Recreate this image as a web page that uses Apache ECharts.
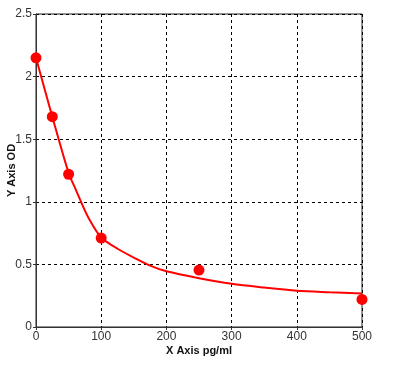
<!DOCTYPE html>
<html><head><meta charset="utf-8">
<script src="https://cdn.jsdelivr.net/npm/echarts@6/dist/echarts.min.js"></script>
<style>html,body{margin:0;padding:0;background:#fff}#c{width:399px;height:368px}</style>
</head><body><div id="c"></div>
<script>
// measured points
var pointX = [0, 25, 50, 100, 250, 500];
var pointY = [2.15, 1.68, 1.22, 0.71, 0.455, 0.22];
// fitted curve
var curveX = [0, 25, 50, 60, 75, 85, 100, 125, 150, 175, 200, 250, 300, 350, 400, 450, 500];
var curveY = [2.15, 1.68, 1.23, 1.11, 0.93, 0.83, 0.715, 0.625, 0.555, 0.49, 0.445, 0.39, 0.345, 0.315, 0.29, 0.278, 0.268];
var xTicks = [0, 100, 200, 300, 400, 500];
var yTicks = [0, 0.5, 1, 1.5, 2, 2.5];

var chart = echarts.init(document.getElementById('c'));
var font = '"Liberation Sans", Arial, sans-serif';
chart.setOption({
  animation: false,
  grid: {left: 36, top: 14, right: 37, bottom: 41, show: true, borderColor: '#222', borderWidth: 1,
         containLabel: false, outerBoundsMode: 'none'},
  xAxis: {
    type: 'value', min: xTicks[0], max: xTicks[xTicks.length-1], interval: 100,
    name: 'X Axis pg/ml', nameLocation: 'middle', nameGap: 18, nameMoveOverlap: false,
    nameTextStyle: {fontFamily: font, fontSize: 11, fontWeight: 'bold', color: '#111'},
    axisLine: {lineStyle: {color: '#333'}},
    axisTick: {show: true, length: 3, lineStyle: {color: '#333'}},
    axisLabel: {fontFamily: font, fontSize: 12, color: '#333', margin: 4},
    splitLine: {show: true, lineStyle: {color: '#000', type: [3, 3], width: 1}}
  },
  yAxis: {
    type: 'value', min: yTicks[0], max: yTicks[yTicks.length-1], interval: 0.5,
    name: 'Y Axis OD', nameLocation: 'middle', nameGap: 19, nameMoveOverlap: false,
    nameTextStyle: {fontFamily: font, fontSize: 11, fontWeight: 'bold', color: '#111'},
    axisLine: {show: true, lineStyle: {color: '#333'}},
    axisTick: {show: true, length: 3, lineStyle: {color: '#333'}},
    axisLabel: {fontFamily: font, fontSize: 12, color: '#333', margin: 4},
    splitLine: {show: true, lineStyle: {color: '#000', type: [3, 3], width: 1}}
  },
  series: [
    {type: 'line', data: curveX.map(function(x, i){return [x, curveY[i]];}), smooth: 0.3,
     showSymbol: false, symbol: 'none', lineStyle: {color: '#ff0000', width: 2}, z: 2},
    {type: 'scatter', data: pointX.map(function(x, i){return [x, pointY[i]];}),
     symbol: 'circle', symbolSize: 11, itemStyle: {color: '#ff0000', opacity: 1}, z: 3}
  ]
});
</script></body></html>
